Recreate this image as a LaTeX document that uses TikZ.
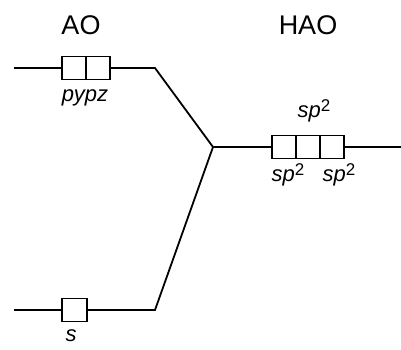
\documentclass[tikz,border=0pt]{standalone}
\usepackage{fontspec}
\setmainfont{Liberation Sans}
\usetikzlibrary{positioning}
\newcommand{\sqtwo}{\raisebox{0.55ex}{\fontsize{17}{18}\selectfont\upshape 2}}

\begin{document}
\begin{tikzpicture}[x=1pt,y=-1pt,line width=1.8pt,node distance=0pt,
  every node/.style={font=\fontsize{27}{30}\selectfont},
  cell/.style={draw,line width=1.8pt,minimum width=24pt,minimum height=23pt,inner sep=0pt,outer sep=0pt},
  orb/.style={font=\fontsize{22}{24}\selectfont\itshape,inner sep=0pt}]
\useasboundingbox (0,0) rectangle (401,349);
% headings
\node (ao) at (81,25) {AO};
\node (hao) at (308,25) {HAO};
% atomic orbitals, p
\node[cell] (py) at (74,68) {};
\node[cell,right=of py] (pz) {};
\node[orb] (plab) at (85,98) {pypz};
% atomic orbital, s
\node[cell,minimum width=25pt] (s) at (74.5,310) {};
\node[orb] (slab) at (71,336) {s};
% hybrids
\node[cell] (h1) at (284,147) {};
\node[cell,right=of h1] (h2) {};
\node[cell,right=of h2] (h3) {};
\node[orb] (hlab2) at (314,111) {sp\sqtwo};
\node[orb] (hlab1) at (288,175) {sp\sqtwo};
\node[orb] (hlab3) at (339,175) {sp\sqtwo};
% line ends
\coordinate (pin) at (14,68);
\coordinate (pbend) at (155,68);
\coordinate (sin) at (14,310);
\coordinate (sbend) at (155,310);
\coordinate (jn) at (213,147);
\coordinate (hout) at (401,147);
\draw (pin) -- (py.west);
\draw (pz.east) -- (pbend) -- (jn);
\draw (sin) -- (s.west);
\draw (s.east) -- (sbend) -- (jn);
\draw (jn) -- (h1.west);
\draw (h3.east) -- (hout);
\end{tikzpicture}
\end{document}
